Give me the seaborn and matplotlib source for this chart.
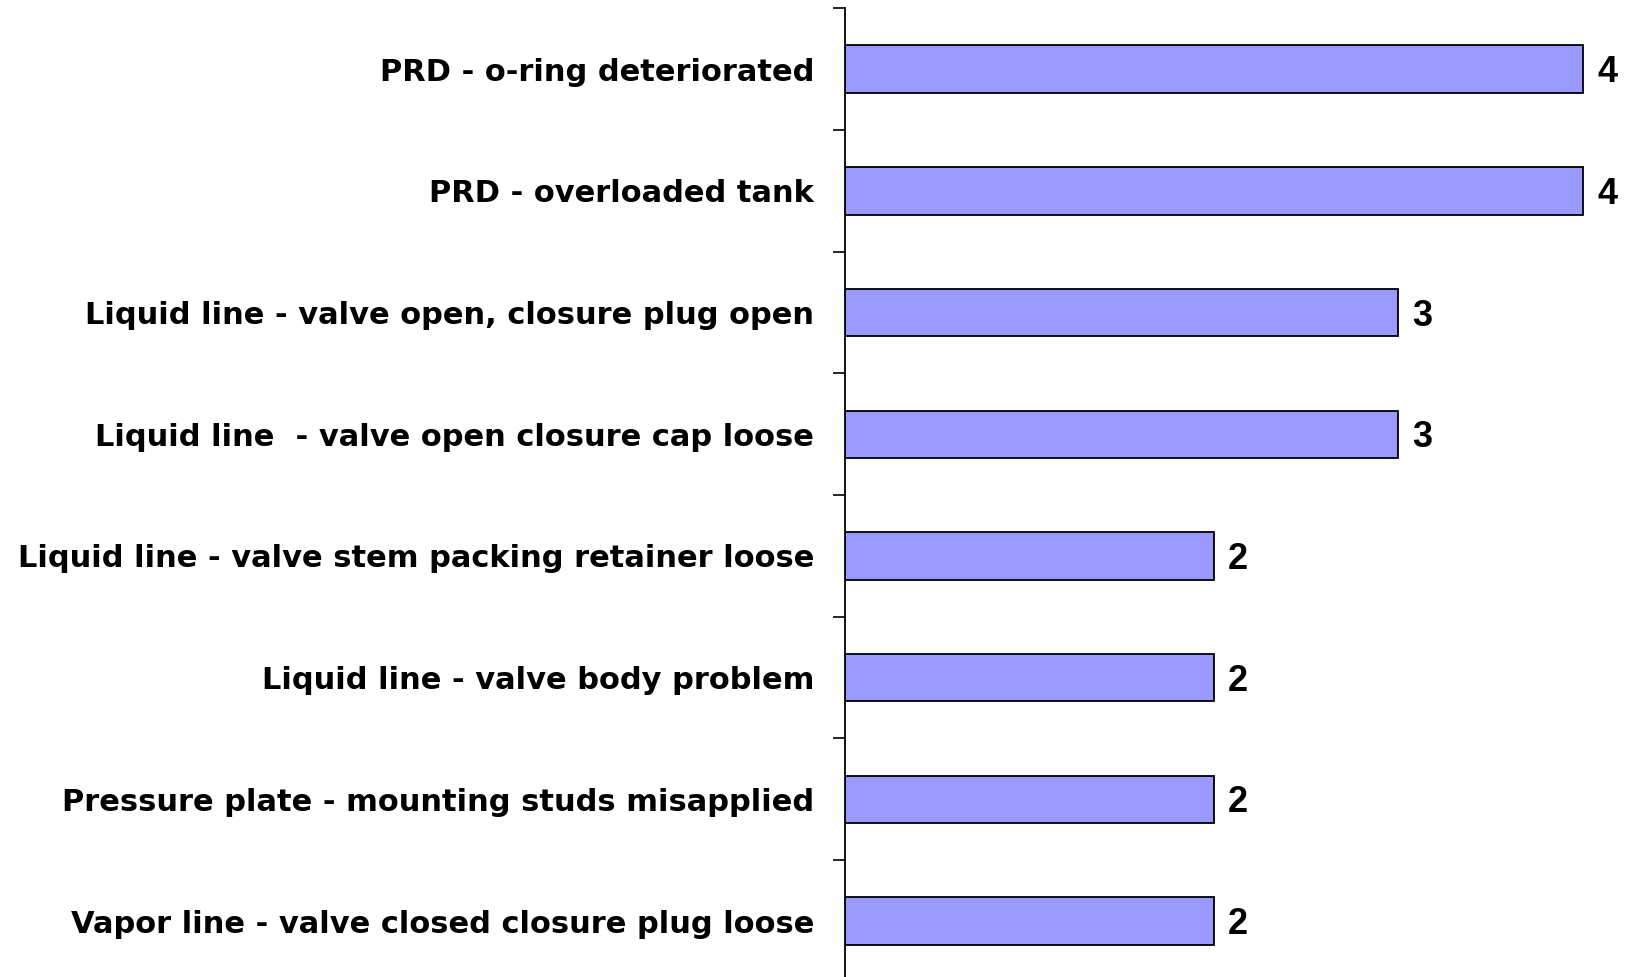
import matplotlib
matplotlib.use("Agg")
import matplotlib.pyplot as plt
import matplotlib.transforms as mtransforms
import seaborn as sns
import numpy as np

# Failure causes and their counts (top to bottom)
causes = [
    "PRD - o-ring deteriorated",
    "PRD - overloaded tank",
    "Liquid line - valve open, closure plug open",
    "Liquid line  - valve open closure cap loose",
    "Liquid line - valve stem packing retainer loose",
    "Liquid line - valve body problem",
    "Pressure plate - mounting studs misapplied",
    "Vapor line - valve closed closure plug loose",
]
counts = [4, 4, 3, 3, 2, 2, 2, 2]

sns.set_style("white")
plt.rcParams['font.family'] = ['DejaVu Sans']
plt.rcParams['text.color'] = 'black'
plt.rcParams['ytick.color'] = 'black'

fig = plt.figure(figsize=(16.31, 9.77), dpi=100)
ax = fig.add_axes([0.518, -0.005, 0.482, 0.9965])

sns.barplot(x=counts, y=causes, orient='h', color='#9999FF', saturation=1,
            edgecolor='black', linewidth=1.3, width=0.39, ax=ax)

# value labels to the right of each bar, digits centred on the bar
offset = mtransforms.offset_copy(ax.transData, fig=fig, x=14, y=-13, units='dots')
for i, v in enumerate(counts):
    ax.text(v, i, str(v), transform=offset, ha='left', va='baseline',
            fontsize=26, fontweight='bold', family='Liberation Sans', color='black')

ax.set_xlim(0, 4.26)
ax.set_xlabel('')
ax.set_ylabel('')
ax.xaxis.set_visible(False)
for side in ['top', 'right', 'bottom']:
    ax.spines[side].set_visible(False)
ax.spines['left'].set_color('black')
ax.spines['left'].set_linewidth(1.3)

# category labels without ticks, tick marks between categories
ax.tick_params(axis='y', which='major', length=0, pad=22, labelsize=22, labelcolor='black')
ax.set_yticks(np.arange(-0.5, len(causes) + 0.5, 1.0), minor=True)
ax.tick_params(axis='y', which='minor', length=8.6, width=1.2, color='black', left=True)
for lbl in ax.get_yticklabels():
    lbl.set_fontweight('bold')

fig.savefig('out.png', dpi=100)
